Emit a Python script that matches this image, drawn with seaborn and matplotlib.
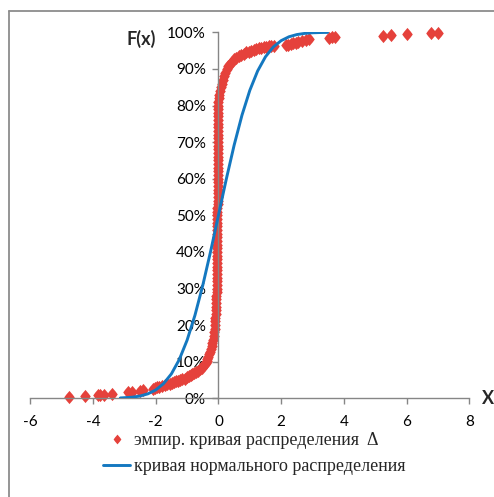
import matplotlib
matplotlib.use("Agg")
import matplotlib.pyplot as plt
import seaborn as sns
from matplotlib.lines import Line2D
from matplotlib.path import Path

# ---------------- data ----------------
emp_x = [-4.75, -4.25, -3.85, -3.78, -3.65, -3.38, -2.90, -2.75, -2.50, -2.42,
         -2.10, -2.02, -1.95, -1.88, -1.80, -1.72, -1.64, -1.56, -1.48, -1.42,
         -1.35, -1.28, -1.22, -1.15, -1.08, -1.01, -0.95, -0.89, -0.83, -0.77,
         -0.71, -0.65, -0.59, -0.54, -0.49, -0.45, -0.41, -0.38, -0.35, -0.32,
         -0.29, -0.26, -0.23, -0.21, -0.19, -0.17, -0.15, -0.13, -0.12, -0.11,
         -0.10, -0.095, -0.09, -0.085, -0.08, -0.075, -0.07, -0.065, -0.06, -0.06,
         -0.055, -0.055, -0.05, -0.05, -0.05, -0.045, -0.045, -0.045, -0.045, -0.04,
         -0.04, -0.04, -0.04, -0.04, -0.04, -0.035, -0.035, -0.035, -0.035, -0.035,
         -0.035, -0.035, -0.03, -0.03, -0.03, -0.03, -0.03, -0.03, -0.03, -0.03,
         -0.03, -0.03, -0.03, -0.03, -0.03, -0.03, -0.03, -0.025, -0.025, -0.025,
         -0.025, -0.025, -0.025, -0.02, -0.02, -0.02, -0.02, -0.015, -0.01, -0.01,
         -0.005, 0.005, 0.02, 0.04, 0.07, 0.10, 0.13, 0.17, 0.21, 0.26,
         0.31, 0.37, 0.43, 0.50, 0.57, 0.64, 0.72, 0.80, 0.88, 0.96,
         1.04, 1.12, 1.20, 1.28, 1.36, 1.44, 1.52, 1.60, 1.68, 1.76,
         2.15, 2.22, 2.30, 2.38, 2.46, 2.55, 2.65, 2.78, 2.90, 3.52,
         3.62, 3.72, 5.26, 5.51, 6.00, 6.78, 6.99]
emp_y = [0.4, 0.6, 0.8, 0.9, 1.0, 1.3, 1.6, 1.8, 2.1, 2.3,
         2.6, 2.8, 3.0, 3.2, 3.4, 3.6, 3.8, 4.0, 4.2, 4.4,
         4.6, 4.8, 5.0, 5.2, 5.4, 5.7, 6.0, 6.3, 6.6, 6.9,
         7.2, 7.5, 7.9, 8.3, 8.7, 9.1, 9.6, 10.1, 10.7, 11.3,
         12.0, 12.7, 13.5, 14.3, 15.1, 16.0, 17.0, 18.0, 19.0, 20.0,
         21, 22, 23, 24, 25, 26, 27, 28, 29, 30,
         31, 32, 33, 34, 35, 36, 37, 38, 39, 40,
         41, 42, 43, 44, 45, 46, 47, 48, 49, 50,
         51, 52, 53, 54, 55, 56, 57, 58, 59, 60,
         61, 62, 63, 64, 65, 66, 67, 68, 69, 70,
         71, 72, 73, 74, 75, 76, 77, 78, 79, 80,
         81, 82, 83, 84, 85, 86, 87, 88, 89, 90,
         90.7, 91.4, 92.0, 92.6, 93.1, 93.5, 93.9, 94.2, 94.5, 94.7,
         95.0, 95.2, 95.4, 95.6, 95.8, 95.9, 96.0, 96.2, 96.3, 96.3,
         96.4, 96.6, 96.8, 97.0, 97.2, 97.4, 97.6, 97.9, 98.2, 98.4,
         98.6, 98.8, 99.1, 99.3, 99.6, 99.8, 99.9]

norm_x = [-3.13, -2.75, -2.5, -2.25, -2.0, -1.75, -1.5, -1.25, -1.0, -0.75,
          -0.5, -0.25, 0.0, 0.25, 0.5, 0.75, 1.0, 1.25, 1.5, 1.75,
          2.0, 2.25, 2.5, 2.75, 3.0, 3.25, 3.48]
norm_y = [0.09, 0.30, 0.62, 1.22, 2.28, 4.01, 6.68, 10.56, 15.87, 22.66,
          30.85, 40.13, 50.0, 59.87, 69.15, 77.34, 84.13, 89.44, 93.32, 95.99,
          97.72, 98.78, 99.38, 99.70, 99.87, 99.94, 99.97]

x_ticks = [-6, -4, -2, 0, 2, 4, 6, 8]
y_ticks = [0, 10, 20, 30, 40, 50, 60, 70, 80, 90, 100]
y_tick_labels = ["0%", "10%", "20%", "30%", "40%", "50%", "60%", "70%", "80%", "90%", "100%"]
legend_labels = ["эмпир. кривая распределения  Δ", "кривая нормального распределения"]

# ---------------- style ----------------
sns.set_style("white")
plt.rcParams['font.family'] = ['Lato', 'DejaVu Sans']

RED = "#E5413B"
BLUE = "#1478C0"
GRAY = "#868686"

W, H = 494, 497
fig = plt.figure(figsize=(W / 100, H / 100), dpi=100)
ax = fig.add_axes([30.3 / W, 1 - 398.3 / H, 439 / W, 366 / H])

# rounded diamond, like the spreadsheet marker
diamond = Path([(0, 1), (0.5, 0.42), (0.8, 0), (0.5, -0.42), (0, -1),
                (-0.5, -0.42), (-0.8, 0), (-0.5, 0.42), (0, 1)],
               [Path.MOVETO] + [Path.LINETO] * 7 + [Path.CLOSEPOLY])

sns.scatterplot(x=emp_x, y=emp_y, ax=ax, marker=diamond, s=90, color=RED,
                linewidth=0, clip_on=False, zorder=2, legend=False)
sns.lineplot(x=norm_x, y=norm_y, ax=ax, color=BLUE, linewidth=2.1, sort=False,
             estimator=None, zorder=3, legend=False)

ax.set_xlim(-6, 8)
ax.set_ylim(0, 100)
ax.set_xticks(x_ticks)
ax.set_xticklabels([str(t) for t in x_ticks])
ax.set_yticks(y_ticks)
ax.set_yticklabels(y_tick_labels)

for s in ['top', 'right']:
    ax.spines[s].set_visible(False)
ax.spines['left'].set_position(('data', 0))
for s in ['left', 'bottom']:
    ax.spines[s].set_color(GRAY)
    ax.spines[s].set_linewidth(1.0)
ax.tick_params(axis='both', which='major', bottom=True, left=True, direction='out',
               length=4, width=1.0, color=GRAY, labelsize=11, labelcolor='black')
ax.tick_params(axis='x', pad=8)
ax.tick_params(axis='y', pad=5)
ax.set_xlabel("")
ax.set_ylabel("")
ax.patch.set_alpha(0)

fig.text(127 / W, 1 - 39 / H, "F(x)", fontsize=13, fontweight='bold', ha='left', va='center')
fig.text(482 / W, 1 - 398 / H, "X", fontsize=13, fontweight='bold', ha='left', va='center')

handles = [Line2D([], [], marker=diamond, color=RED, linestyle='none', markersize=7, markeredgewidth=0),
           Line2D([], [], color=BLUE, linewidth=2.1)]
fig.legend(handles=handles, labels=legend_labels, loc='upper left',
           bbox_to_anchor=(103 / W, 1 - 432 / H), frameon=False,
           prop={'family': 'Liberation Serif', 'size': 13},
           handlelength=1.5, handletextpad=0.2, labelspacing=0.5,
           borderpad=0, borderaxespad=0)

# outer chart frame
fig.add_artist(Line2D([8.5 / W, 1.0], [1 - 10.5 / H, 1 - 10.5 / H], transform=fig.transFigure,
                      color="#8C8C8C", linewidth=1.3))
fig.add_artist(Line2D([8.5 / W, 8.5 / W], [1 - 10.5 / H, 0.0], transform=fig.transFigure,
                      color="#8C8C8C", linewidth=1.3))

fig.savefig("out.png", dpi=100)
